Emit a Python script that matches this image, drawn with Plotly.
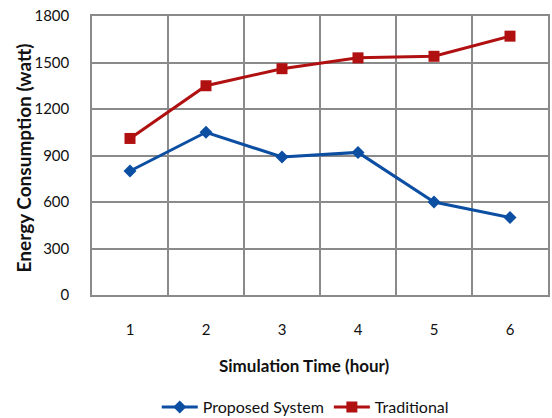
import plotly.graph_objects as go

# Simulation hours and measured energy use (watt)
hours = ["1", "2", "3", "4", "5", "6"]
proposed_system = [800, 1050, 890, 920, 600, 500]
traditional = [1010, 1350, 1460, 1530, 1540, 1670]
y_ticks = [0, 300, 600, 900, 1200, 1500, 1800]

FONT = "Lato, 'Liberation Sans', sans-serif"
BLUE = "#0b4ea2"
RED = "#b01010"
GRID = "#8a8a8a"
TEXT = "#111111"

fig = go.Figure()
fig.add_trace(go.Scatter(
    x=hours, y=proposed_system, name="Proposed System",
    mode="lines+markers",
    line=dict(color=BLUE, width=3),
    marker=dict(symbol="diamond", size=10, color=BLUE),
))
fig.add_trace(go.Scatter(
    x=hours, y=traditional, name="Traditional",
    mode="lines+markers",
    line=dict(color=RED, width=3),
    marker=dict(symbol="square", size=11, color=RED),
))

fig.update_layout(
    width=552, height=418,
    margin=dict(l=92, r=2, t=16, b=123),
    paper_bgcolor="white", plot_bgcolor="white",
    font=dict(family=FONT, color=TEXT, size=15),
    showlegend=True,
    legend=dict(
        orientation="h", xref="container", yref="container",
        x=0.553, xanchor="center", y=0.026, yanchor="middle",
        font=dict(family=FONT, size=16, color=TEXT),
        itemwidth=36, tracegroupgap=0,
    ),
    xaxis=dict(
        type="category", categoryorder="array", categoryarray=hours,
        range=[-0.5, 5.5], tickson="boundaries",
        showgrid=True, gridcolor=GRID, gridwidth=1.5,
        showline=True, linecolor=GRID, linewidth=1.5, mirror=True,
        ticks="", ticklabelstandoff=20,
        tickfont=dict(family=FONT, size=15, color=TEXT),
        zeroline=False,
    ),
    yaxis=dict(
        range=[0, 1800], tickmode="array", tickvals=y_ticks,
        showgrid=True, gridcolor=GRID, gridwidth=1.5,
        showline=True, linecolor=GRID, linewidth=1.5, mirror=True,
        ticks="", ticklabelstandoff=18,
        tickfont=dict(family=FONT, size=15, color=TEXT),
        zeroline=False,
    ),
    annotations=[
        dict(text="<b>Simulation Time (hour)</b>", xref="paper", yref="paper",
             x=0.465, y=-0.254, xanchor="center", yanchor="middle",
             showarrow=False,
             font=dict(family=FONT, size=17, color=TEXT)),
        dict(text="<b>Energy Consumption (watt)</b>", xref="paper", yref="paper",
             x=-0.151, y=0.49, xanchor="center", yanchor="middle",
             showarrow=False, textangle=-90,
             font=dict(family=FONT, size=19, color=TEXT)),
    ],
)

fig.write_html("out.html")
